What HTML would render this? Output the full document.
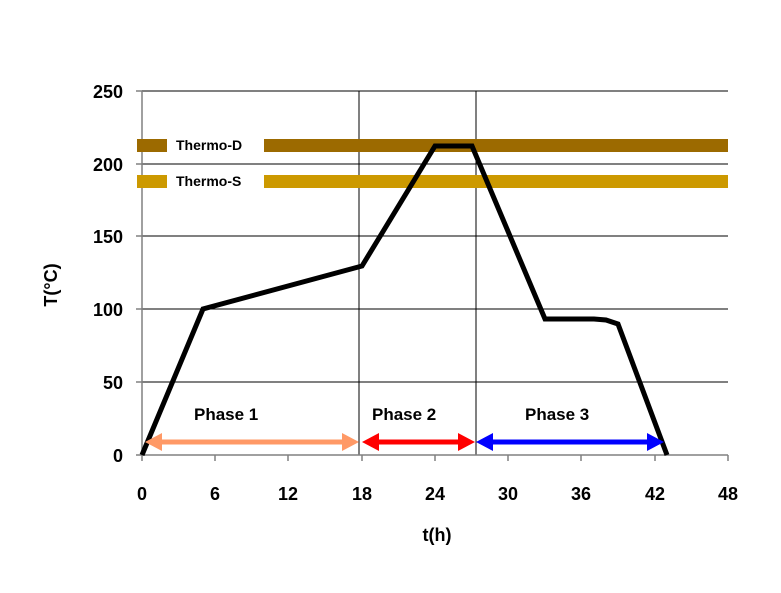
<!DOCTYPE html>
<html><head><style>body{margin:0;background:#fff}svg{display:block}</style></head><body>
<svg width="781" height="593" xmlns="http://www.w3.org/2000/svg" font-family="Liberation Sans, Arial, sans-serif" font-weight="bold">
<g stroke="#000" stroke-width="1">
<line x1="142" y1="91" x2="728" y2="91"/>
<line x1="142" y1="164" x2="728" y2="164"/>
<line x1="142" y1="236" x2="728" y2="236"/>
<line x1="142" y1="309" x2="728" y2="309"/>
<line x1="142" y1="382" x2="728" y2="382"/>
<line x1="359" y1="91" x2="359" y2="455"/>
<line x1="476" y1="91" x2="476" y2="455"/>
</g>
<g stroke="#808080" stroke-width="1.5">
<line x1="142" y1="91" x2="142" y2="456"/>
<line x1="136" y1="455" x2="728" y2="455"/>
<line x1="136" y1="91" x2="142" y2="91"/><line x1="136" y1="164" x2="142" y2="164"/><line x1="136" y1="236" x2="142" y2="236"/><line x1="136" y1="309" x2="142" y2="309"/><line x1="136" y1="382" x2="142" y2="382"/>
<line x1="142" y1="455" x2="142" y2="461"/><line x1="215" y1="455" x2="215" y2="461"/><line x1="288" y1="455" x2="288" y2="461"/><line x1="362" y1="455" x2="362" y2="461"/><line x1="435" y1="455" x2="435" y2="461"/><line x1="508" y1="455" x2="508" y2="461"/><line x1="581" y1="455" x2="581" y2="461"/><line x1="655" y1="455" x2="655" y2="461"/><line x1="728" y1="455" x2="728" y2="461"/>
</g>
<rect x="137" y="139" width="30" height="13" fill="#9c6a00"/>
<rect x="264" y="139" width="464" height="13" fill="#9c6a00"/>
<rect x="137" y="175" width="30" height="13" fill="#cc9900"/>
<rect x="264" y="175" width="464" height="13" fill="#cc9900"/>
<text x="176" y="150" font-size="14">Thermo-D</text>
<text x="176" y="186" font-size="14">Thermo-S</text>
<polyline fill="none" stroke="#000" stroke-width="5" stroke-linejoin="miter" points="142,455 203,309 362,266 435,146 472,146 545,319 594,319 606,320 618,324 667,455"/>
<g stroke-width="5">
<line x1="160" y1="442" x2="345" y2="442" stroke="#ff9966"/>
<polygon points="145,442 162,433 162,451" fill="#ff9966"/><polygon points="359,442 342,433 342,451" fill="#ff9966"/>
<line x1="375" y1="442" x2="460" y2="442" stroke="#ff0000"/>
<polygon points="362,442 379,433 379,451" fill="#ff0000"/><polygon points="475,442 458,433 458,451" fill="#ff0000"/>
<line x1="492" y1="442" x2="650" y2="442" stroke="#0000ff"/>
<polygon points="476,442 493,433 493,451" fill="#0000ff"/><polygon points="664,442 647,433 647,451" fill="#0000ff"/>
</g>
<g font-size="17">
<text x="194" y="420">Phase 1</text>
<text x="372" y="420">Phase 2</text>
<text x="525" y="420">Phase 3</text>
</g>
<g font-size="18" text-anchor="end">
<text x="123" y="98">250</text><text x="123" y="171">200</text><text x="123" y="243">150</text><text x="123" y="316">100</text><text x="123" y="389">50</text><text x="123" y="462">0</text>
</g>
<g font-size="18" text-anchor="middle">
<text x="142" y="500">0</text><text x="215" y="500">6</text><text x="288" y="500">12</text><text x="362" y="500">18</text><text x="435" y="500">24</text><text x="508" y="500">30</text><text x="581" y="500">36</text><text x="655" y="500">42</text><text x="728" y="500">48</text>
<text x="437" y="541">t(h)</text>
<text transform="translate(57,285) rotate(-90)">T(°C)</text>
</g>
</svg>
</body></html>
